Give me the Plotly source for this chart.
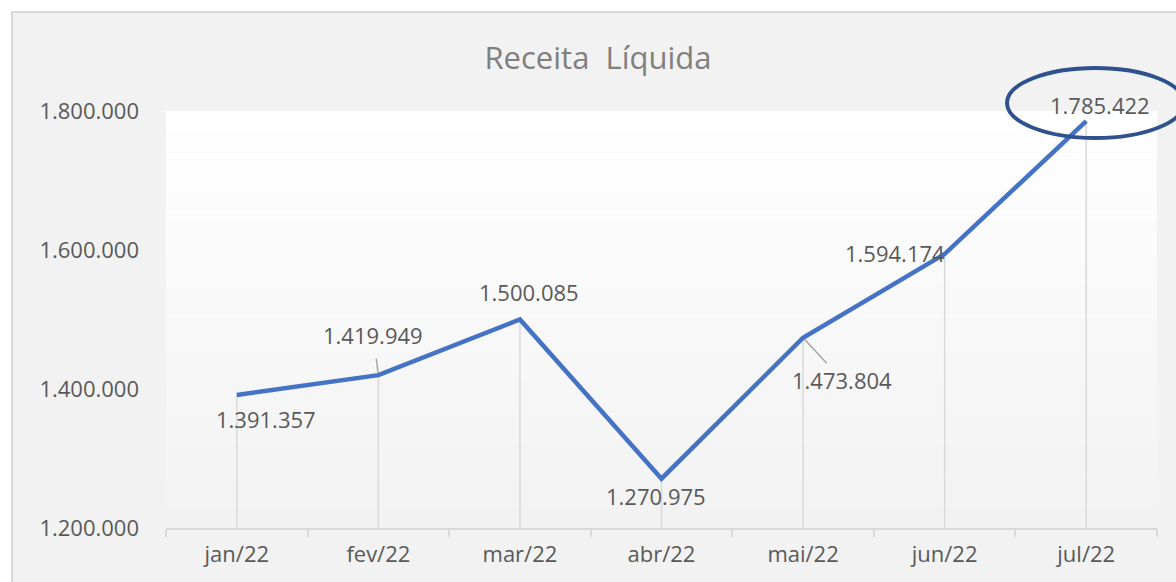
import plotly.graph_objects as go

# ---- data ----
months = ["jan/22", "fev/22", "mar/22", "abr/22", "mai/22", "jun/22", "jul/22"]
receita = [1391357, 1419949, 1500085, 1270975, 1473804, 1594174, 1785422]
y_ticks = [1200000, 1400000, 1600000, 1800000]
y_min, y_max = 1200000, 1800000
title_text = "Receita  Líquida"

# ---- styles ----
FONT = "Open Sans, Lato, sans-serif"
LABEL_GREY = "#595959"
LINE_BLUE = "#4472C4"
AXIS_GREY = "#d9d9d9"

# data-label offsets in pixels (dx, dy) relative to the point, Excel-like placement
label_offsets = [(29, 24), (-5, -40), (9, -27), (-6, 17), (39, 42), (-50, -1), (14, -16)]
leader = [False, True, False, False, True, False, False]
leader_gap = [0, 7, 0, 0, 0, 0, 0]

W, H = 1176, 582
PLOT_L, PLOT_R, PLOT_T, PLOT_B = 166, 1157, 111, 528  # page pixels
ML, MT, MR, MB = PLOT_L, PLOT_T, W - PLOT_R, H - PLOT_B
PW, PH = PLOT_R - PLOT_L, PLOT_B - PLOT_T


def px_to_paper_x(px):
    return (px - PLOT_L) / PW


def px_to_paper_y(py):
    return (PLOT_B - py) / PH


fig = go.Figure()

# drop lines from each point down to the axis
fig.add_trace(go.Scatter(
    x=months, y=receita, mode="markers",
    marker=dict(size=0.1, color="rgba(0,0,0,0)"),
    error_y=dict(type="data", symmetric=False,
                 array=[0] * len(receita),
                 arrayminus=[v - y_min for v in receita],
                 color=AXIS_GREY, thickness=1.5, width=0),
    hoverinfo="skip", showlegend=False,
))

# main line
fig.add_trace(go.Scatter(
    x=months, y=receita, mode="lines",
    line=dict(color=LINE_BLUE, width=4.5),
    showlegend=False,
))


def fmt(v):
    return f"{v:,}".replace(",", ".")


LBL_FONT = dict(family=FONT, size=22, color=LABEL_GREY)
annotations = []
for m, v, (dx, dy), ld, gap in zip(months, receita, label_offsets, leader, leader_gap):
    if ld:
        annotations.append(dict(
            x=m, y=v, xref="x", yref="y", text=fmt(v),
            showarrow=True, arrowhead=0, arrowwidth=1.5, arrowcolor="#a6a6a6",
            ax=dx, ay=dy, standoff=2, startstandoff=gap, font=LBL_FONT,
        ))
    else:
        annotations.append(dict(
            x=m, y=v, xref="x", yref="y", text=fmt(v), showarrow=False,
            xshift=dx, yshift=-dy, font=LBL_FONT,
        ))

shapes = []
# chart area (grey box with border)
shapes.append(dict(
    type="rect", xref="paper", yref="paper", layer="below",
    x0=px_to_paper_x(12), x1=px_to_paper_x(W + 20),
    y0=px_to_paper_y(H + 20), y1=px_to_paper_y(12),
    fillcolor="#f2f2f2", line=dict(color=AXIS_GREY, width=2),
))
# plot-area vertical gradient (white -> light grey)
n_strips = 60
for i in range(n_strips):
    t = i / (n_strips - 1)
    c = round(255 - (255 - 242) * t)
    y1 = 1 - i / n_strips
    y0 = 1 - (i + 1) / n_strips
    shapes.append(dict(
        type="rect", xref="paper", yref="paper", layer="below",
        x0=0, x1=1, y0=y0, y1=y1,
        fillcolor=f"rgb({c},{c},{c})", line=dict(width=0),
    ))
# highlight ellipse around the last value
shapes.append(dict(
    type="circle", xref="paper", yref="paper", layer="above",
    x0=px_to_paper_x(1007), x1=px_to_paper_x(1184),
    y0=px_to_paper_y(138), y1=px_to_paper_y(68),
    line=dict(color="#2F528F", width=4), fillcolor="rgba(0,0,0,0)",
))

fig.update_layout(
    width=W, height=H,
    margin=dict(l=ML, r=MR, t=MT, b=MB),
    paper_bgcolor="white", plot_bgcolor="rgba(0,0,0,0)",
    separators=",.",
    title=dict(text=title_text, x=598 / W, xref="container",
               y=1 - 58 / H, yref="container",
               xanchor="center", yanchor="middle",
               font=dict(family=FONT, size=31, color="#7f7f7f")),
    shapes=shapes, annotations=annotations,
    showlegend=False,
)

fig.update_xaxes(
    type="category", categoryorder="array", categoryarray=months,
    range=[-0.5, len(months) - 0.5],
    showgrid=False, showline=True, linecolor=AXIS_GREY, linewidth=2,
    ticks="outside", tickson="boundaries", ticklen=7, tickwidth=2, tickcolor=AXIS_GREY,
    tickfont=dict(family=FONT, size=22, color=LABEL_GREY),
    ticklabelstandoff=6, zeroline=False,
)
fig.update_yaxes(
    range=[y_min, y_max], tickvals=y_ticks, tickformat=",d",
    showgrid=False, showline=False, zeroline=False, ticks="",
    tickfont=dict(family=FONT, size=22, color=LABEL_GREY),
    ticklabelstandoff=26,
)

fig.write_html(
    "out.html",
    config={"displayModeBar": False},
    post_script="document.body.style.margin='0';document.body.style.overflow='hidden';",
)
